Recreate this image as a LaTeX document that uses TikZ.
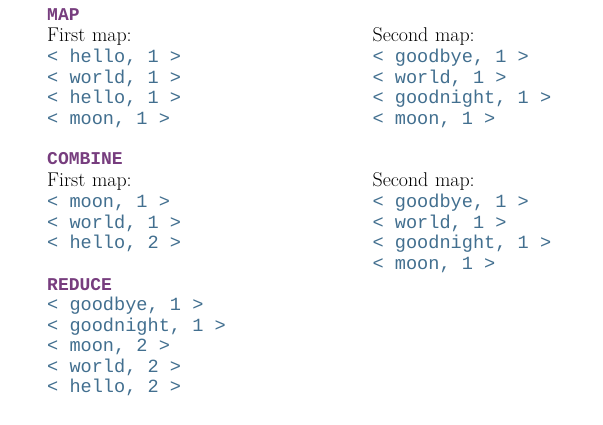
\documentclass[tikz,border=0pt]{standalone}
\usepackage{fontspec}
\usepackage{xcolor}
\usetikzlibrary{positioning}
\newfontfamily\pairfont{Liberation Mono}
\definecolor{headpurple}{HTML}{773D7E}
\definecolor{pairblue}{HTML}{426F8F}
\newcommand{\kv}[2]{<\hspace{0.6em}#1,\hspace{0.6em}#2\hspace{0.6em}>}

\begin{document}
\begin{tikzpicture}[node distance=20.5pt,
    every node/.style={text width=200pt, align=left, inner sep=0pt, text height=14pt, text depth=5pt},
    head/.style={font=\pairfont\bfseries\fontsize{18}{20}\selectfont, text=headpurple},
    title/.style={font=\fontsize{19.9}{20}\selectfont},
    pair/.style={font=\pairfont\fontsize{18.6}{20}\selectfont, text=pairblue}]
    \useasboundingbox (0,0) rectangle (603pt,-425pt);

    \node (map) [head, anchor=base west] at (47pt,-20.7pt) {MAP};
    \node (mapfirst) [title, below of=map, yshift=-0.5pt] {First map:};
    \node (mapsecond) [title, right=125pt of mapfirst] {Second map:};
    \node (mf1) [pair, below of=mapfirst, yshift=-0.5pt] {\kv{hello}{1}};
    \node (mf2) [pair, below of=mf1] {\kv{world}{1}};
    \node (mf3) [pair, below of=mf2] {\kv{hello}{1}};
    \node (mf4) [pair, below of=mf3] {\kv{moon}{1}};
    \node (ms1) [pair, right=125pt of mf1] {\kv{goodbye}{1}};
    \node (ms2) [pair, right=125pt of mf2] {\kv{world}{1}};
    \node (ms3) [pair, right=125pt of mf3] {\kv{goodnight}{1}};
    \node (ms4) [pair, right=125pt of mf4] {\kv{moon}{1}};

    \node (comb) [head, below of=mf4, yshift=-20pt] {COMBINE};
    \node (combfirst) [title, below of=comb, yshift=-1.5pt] {First map:};
    \node (combsecond) [title, right=125pt of combfirst] {Second map:};
    \node (cf1) [pair, below of=combfirst, yshift=-0.5pt] {\kv{moon}{1}};
    \node (cf2) [pair, below of=cf1] {\kv{world}{1}};
    \node (cf3) [pair, below of=cf2] {\kv{hello}{2}};
    \node (cs1) [pair, right=125pt of cf1] {\kv{goodbye}{1}};
    \node (cs2) [pair, right=125pt of cf2] {\kv{world}{1}};
    \node (cs3) [pair, right=125pt of cf3] {\kv{goodnight}{1}};
    \node (cs4) [pair, below of=cs3] {\kv{moon}{1}};

    \node (red) [head, below of=cf3, yshift=-21.5pt] {REDUCE};
    \node (r1) [pair, below of=red, yshift=0.5pt] {\kv{goodbye}{1}};
    \node (r2) [pair, below of=r1] {\kv{goodnight}{1}};
    \node (r3) [pair, below of=r2] {\kv{moon}{2}};
    \node (r4) [pair, below of=r3] {\kv{world}{2}};
    \node (r5) [pair, below of=r4] {\kv{hello}{2}};
\end{tikzpicture}
\end{document}
